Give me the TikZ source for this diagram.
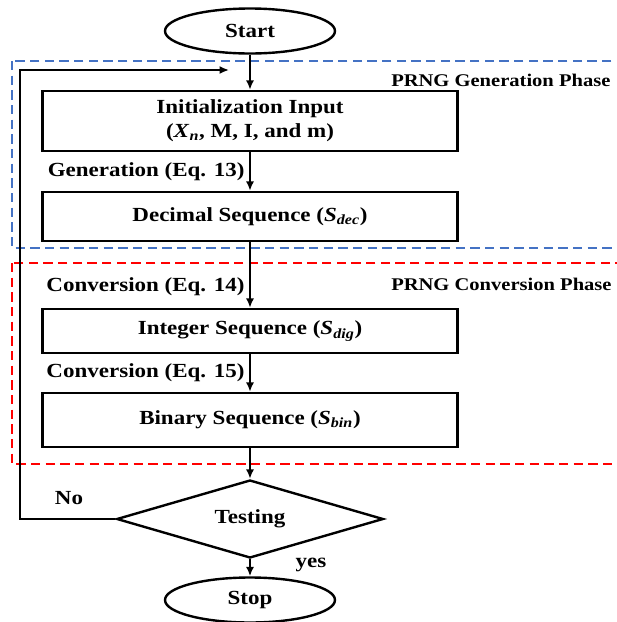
\documentclass[tikz,border=0pt]{standalone}
\usepackage{fontspec}
\setmainfont{Liberation Serif}[FakeStretch=1.15]
\usetikzlibrary{arrows.meta,positioning,shapes.geometric}
\usepackage{xcolor}
\definecolor{cblue}{HTML}{4472C4}
\definecolor{cred}{HTML}{FF0000}
\newcommand{\seqsub}[2]{\textit{#1}\textsubscript{\textit{#2}}}

\begin{document}
\begin{tikzpicture}[
  x=0.75pt, y=-0.75pt,
  every node/.style={font=\bfseries\fontsize{15pt}{18pt}\selectfont},
  terminal/.style={draw, ellipse, line width=1.8pt, minimum width=127.5pt,
                   minimum height=33.75pt, inner sep=0pt},
  process/.style={draw, rectangle, line width=1.8pt, minimum width=311pt,
                  align=center, inner sep=0pt},
  decision/.style={draw, diamond, line width=1.8pt, minimum width=200pt,
                   minimum height=58.5pt, aspect=3.4, inner sep=0pt},
  phase/.style={draw, line width=1.8pt, dash pattern=on 7pt off 4pt},
  phaselabel/.style={anchor=west, inner sep=0pt,
                     font=\bfseries\fontsize{13.4pt}{16pt}\selectfont},
  arr/.style={-{Latex[length=7pt,width=6pt]}, line width=1.5pt}
]
\useasboundingbox (0,0) rectangle (617,622);
\clip (0,0) rectangle (617,622);

% phases
\draw[phase, cblue] (12,61) rectangle (660,248);
\draw[phase, cred] (12,263) rectangle (660,464);
\node[phaselabel] (genlbl) at (391,80) {PRNG Generation Phase};
\node[phaselabel] (convlbl) at (391,284) {PRNG Conversion Phase};

% flow
\node[terminal] (start) at (250,31) {Start};
\node[process, minimum height=45pt] (init) at (250,121)
  {Initialization Input\\(\seqsub{X}{n}, M, I, and m)};
\node[process, minimum height=36.75pt] (dec) at (250,216.5)
  {Decimal Sequence (\seqsub{S}{dec})};
\node[process, minimum height=33pt] (int) at (250,331)
  {Integer Sequence (\seqsub{S}{dig})};
\node[process, minimum height=40.5pt] (bin) at (250,420)
  {Binary Sequence (\seqsub{S}{bin})};
\node[decision] (test) at (250,519) {Testing};
\node[terminal] (stop) at (250,600) {Stop};

\draw[arr] (start) -- (init);
\draw[arr] (init) -- node[left] {Generation (Eq. 13)} (dec);
\draw[arr] (dec) -- node[left, pos=0.68] {Conversion (Eq. 14)} (int);
\draw[arr] (int) -- node[left] {Conversion (Eq. 15)} (bin);
\draw[arr] (bin) -- (test);
\draw[arr] (test) -- (stop);

% back to the input
\coordinate (back) at (20,70);
\coordinate (backend) at (229,70);
\draw[arr] (test.west) -| (back) -- (backend);

\node (no) at (69,498) {No};
\node (yes) at (311,565) {yes};
\end{tikzpicture}
\end{document}
